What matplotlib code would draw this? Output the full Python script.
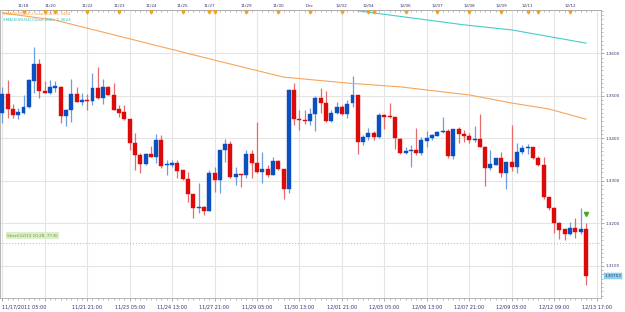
import numpy as np
import matplotlib
matplotlib.use('Agg')
import matplotlib.pyplot as plt
from matplotlib.ticker import MultipleLocator, FormatStrFormatter

# EUR/USD 4h candles, 11/17/2011 05:00 -> 12/13/2011
opens = [1.3459, 1.3504, 1.3468, 1.3455, 1.3460, 1.3473, 1.3536, 1.3576, 1.3511, 1.3507,
         1.3519, 1.3521, 1.3453, 1.3467, 1.3504, 1.3486, 1.3490, 1.3488, 1.3518, 1.3494,
         1.3520, 1.3502, 1.3468, 1.3461, 1.3445, 1.3388, 1.3361, 1.3339, 1.3363, 1.3356,
         1.3395, 1.3336, 1.3337, 1.3343, 1.3325, 1.3304, 1.3268, 1.3237, 1.3238, 1.3230,
         1.3318, 1.3302, 1.3372, 1.3387, 1.3310, 1.3316, 1.3314, 1.3363, 1.3343, 1.3321,
         1.3328, 1.3314, 1.3347, 1.3327, 1.3281, 1.3514, 1.3446, 1.3443, 1.3441, 1.3457,
         1.3494, 1.3482, 1.3441, 1.3459, 1.3474, 1.3456, 1.3482, 1.3502, 1.3392, 1.3404,
         1.3412, 1.3402, 1.3455, 1.3451, 1.3449, 1.3398, 1.3365, 1.3371, 1.3372, 1.3365,
         1.3394, 1.3400, 1.3406, 1.3414, 1.3416, 1.3358, 1.3422, 1.3410, 1.3405, 1.3396,
         1.3398, 1.3380, 1.3331, 1.3337, 1.3353, 1.3319, 1.3344, 1.3332, 1.3367, 1.3377,
         1.3379, 1.3354, 1.3337, 1.3261, 1.3237, 1.3201, 1.3186, 1.3175, 1.3188, 1.3179,
         1.3186]
highs = [1.3520, 1.3537, 1.3481, 1.3471, 1.3502, 1.3540, 1.3614, 1.3586, 1.3536, 1.3537,
         1.3536, 1.3523, 1.3468, 1.3540, 1.3520, 1.3507, 1.3504, 1.3553, 1.3567, 1.3539,
         1.3523, 1.3529, 1.3478, 1.3478, 1.3446, 1.3412, 1.3366, 1.3365, 1.3382, 1.3410,
         1.3408, 1.3349, 1.3350, 1.3349, 1.3326, 1.3321, 1.3269, 1.3294, 1.3240, 1.3325,
         1.3333, 1.3373, 1.3398, 1.3394, 1.3333, 1.3317, 1.3372, 1.3372, 1.3439, 1.3368,
         1.3337, 1.3355, 1.3349, 1.3328, 1.3515, 1.3531, 1.3467, 1.3467, 1.3471, 1.3500,
         1.3518, 1.3511, 1.3467, 1.3486, 1.3478, 1.3490, 1.3547, 1.3503, 1.3408, 1.3424,
         1.3416, 1.3459, 1.3456, 1.3484, 1.3450, 1.3400, 1.3379, 1.3384, 1.3425, 1.3404,
         1.3418, 1.3409, 1.3418, 1.3451, 1.3423, 1.3423, 1.3427, 1.3420, 1.3412, 1.3429,
         1.3457, 1.3381, 1.3372, 1.3354, 1.3368, 1.3345, 1.3431, 1.3388, 1.3384, 1.3386,
         1.3380, 1.3358, 1.3355, 1.3262, 1.3238, 1.3202, 1.3187, 1.3204, 1.3213, 1.3235,
         1.3200]
lows = [1.3437, 1.3447, 1.3447, 1.3445, 1.3458, 1.3471, 1.3507, 1.3494, 1.3506, 1.3504,
        1.3510, 1.3437, 1.3429, 1.3439, 1.3485, 1.3478, 1.3467, 1.3478, 1.3492, 1.3481,
        1.3501, 1.3466, 1.3451, 1.3443, 1.3372, 1.3325, 1.3318, 1.3337, 1.3355, 1.3342,
        1.3330, 1.3314, 1.3332, 1.3307, 1.3303, 1.3250, 1.3212, 1.3224, 1.3220, 1.3229,
        1.3274, 1.3272, 1.3345, 1.3306, 1.3290, 1.3285, 1.3306, 1.3306, 1.3318, 1.3294,
        1.3310, 1.3313, 1.3325, 1.3256, 1.3272, 1.3431, 1.3420, 1.3433, 1.3431, 1.3416,
        1.3460, 1.3439, 1.3439, 1.3457, 1.3455, 1.3447, 1.3473, 1.3362, 1.3384, 1.3396,
        1.3396, 1.3400, 1.3421, 1.3447, 1.3374, 1.3363, 1.3363, 1.3332, 1.3361, 1.3361,
        1.3380, 1.3396, 1.3405, 1.3413, 1.3353, 1.3351, 1.3388, 1.3392, 1.3390, 1.3392,
        1.3379, 1.3288, 1.3325, 1.3336, 1.3308, 1.3280, 1.3324, 1.3318, 1.3362, 1.3363,
        1.3351, 1.3335, 1.3256, 1.3231, 1.3178, 1.3162, 1.3161, 1.3172, 1.3165, 1.3175,
        1.3055]
closes = [1.3504, 1.3469, 1.3455, 1.3461, 1.3473, 1.3537, 1.3576, 1.3512, 1.3507, 1.3520,
          1.3522, 1.3453, 1.3467, 1.3504, 1.3486, 1.3490, 1.3488, 1.3518, 1.3494, 1.3520,
          1.3502, 1.3467, 1.3460, 1.3445, 1.3388, 1.3361, 1.3340, 1.3363, 1.3356, 1.3396,
          1.3335, 1.3338, 1.3343, 1.3324, 1.3304, 1.3268, 1.3236, 1.3239, 1.3230, 1.3318,
          1.3302, 1.3372, 1.3387, 1.3310, 1.3316, 1.3314, 1.3363, 1.3343, 1.3321, 1.3328,
          1.3314, 1.3347, 1.3327, 1.3281, 1.3514, 1.3445, 1.3443, 1.3441, 1.3457, 1.3494,
          1.3482, 1.3441, 1.3459, 1.3474, 1.3456, 1.3481, 1.3502, 1.3392, 1.3402, 1.3412,
          1.3402, 1.3455, 1.3449, 1.3449, 1.3400, 1.3365, 1.3371, 1.3372, 1.3365, 1.3396,
          1.3400, 1.3408, 1.3414, 1.3416, 1.3358, 1.3422, 1.3410, 1.3405, 1.3396, 1.3398,
          1.3380, 1.3331, 1.3339, 1.3353, 1.3319, 1.3344, 1.3332, 1.3367, 1.3378, 1.3379,
          1.3354, 1.3337, 1.3261, 1.3237, 1.3201, 1.3184, 1.3175, 1.3188, 1.3179, 1.3186,
          1.3075]

# moving averages (read at a few bars)
ema_bars = [0, 10, 40, 53, 65, 75, 88, 96, 103, 110]
ema_vals = [1.3695, 1.3678, 1.3584, 1.3544, 1.3530, 1.3521, 1.3502, 1.3483, 1.3469, 1.3445]
sma_bars = [67, 87, 96, 110]
sma_vals = [1.3700, 1.3667, 1.3655, 1.3624]

bottom_ticks = [0, 8, 16, 24, 32, 40, 48, 56, 64, 72, 80, 88, 96, 104, 112]
bottom_labels = ['11/17/2011 05:00', '', '11/21 21:00', '11/23 05:00', '11/24 13:00',
                 '11/27 21:00', '11/29 05:00', '11/30 13:00', '12/01 21:00', '12/05 05:00',
                 '12/06 13:00', '12/07 21:00', '12/09 05:00', '12/12 09:00', '12/13 17:00']
day_ticks = [4, 9, 16, 22, 28, 34, 39, 46, 52, 58, 64, 69, 76, 82, 88, 94, 99, 107]
day_labels = ['11/18', '11/20', '11/22', '11/23', '11/24', '11/25', '11/27', '11/29', '11/30',
              'Dec', '12/02', '12/04', '12/06', '12/07', '12/08', '12/09', '12/11', '12/12']
day_marks = [4, 8, 10, 16, 22, 28, 34, 39, 40, 46, 52, 58, 64, 69, 70, 76, 82, 88, 94, 99, 101, 107]

short_price = 1.3154
last_price = 1.30753

navy = '#33336e'
up_col, up_wick = '#0a50c0', '#6d9ee0'
dn_col, dn_wick = '#dd0a0a', '#e86a6a'

fig = plt.figure(figsize=(6.25, 3.12), dpi=100)
ax = fig.add_axes([0.0, 14 / 312, 601 / 625, 288 / 312])

x = np.arange(len(opens))
o = np.array(opens); h = np.array(highs); l = np.array(lows); c = np.array(closes)
up = c >= o

#wicks then bodies
ax.vlines(x[up], l[up], h[up], color=up_wick, lw=0.9, zorder=2)
ax.vlines(x[~up], l[~up], h[~up], color=dn_wick, lw=0.9, zorder=2)
body_lo = np.minimum(o, c)
body_h = np.maximum(np.abs(c - o), 0.00025)
ax.bar(x[up], body_h[up], bottom=body_lo[up], width=0.75, color=up_col, edgecolor=up_col, lw=0.3, zorder=3)
ax.bar(x[~up], body_h[~up], bottom=body_lo[~up], width=0.75, color=dn_col, edgecolor=dn_col, lw=0.3, zorder=3)

#moving averages
ax.plot(ema_bars, ema_vals, color='#f7a55a', lw=0.8, zorder=2)
ax.plot(sma_bars, sma_vals, color='#45cccc', lw=0.8, zorder=2)

#short order line
ax.axhline(short_price, color='#a8d888', ls=':', lw=0.8, zorder=1)
ax.text(0.9, 1.3171, 'Short(12/13 10:28, 77.8)', fontsize=3, color='#6f8f55', va='center',
        bbox=dict(facecolor='#dcefc8', edgecolor='none', pad=0.8))
ax.plot([110], [1.3222], marker='v', color='#44aa22', ms=3, zorder=4)

ax.text(0.005, 0.986, 'EMA(EURUSD,Close,100): 1.3444', transform=ax.transAxes,
        fontsize=3, color='#f59a40', va='center')
ax.text(0.005, 0.966, 'SMA(EURUSD,Close,200): 1.3624', transform=ax.transAxes,
        fontsize=3, color='#30bcbc', va='center')

ax.set_xlim(-0.43, 112.83)
ax.set_ylim(1.30242, 1.37019)

#grid
ax.set_xticks(bottom_ticks)
ax.set_xticklabels(bottom_labels)
ax.get_xticklabels()[0].set_ha('left')
ax.xaxis.set_minor_locator(MultipleLocator(1))
ax.set_yticks(np.arange(1.31, 1.361, 0.01))
ax.yaxis.set_major_formatter(FormatStrFormatter('%.4f'))
ax.yaxis.set_minor_locator(MultipleLocator(0.001))
ax.yaxis.tick_right()
ax.grid(True, which='major', color='#e4e4e4', lw=0.8, zorder=0)
ax.set_axisbelow(True)

ax.tick_params(axis='x', which='major', labelsize=3.6, colors='#888888', labelcolor=navy,
               length=2.5, width=0.5, pad=2)
ax.tick_params(axis='x', which='minor', length=1.2, width=0.4, colors='#888888')
ax.tick_params(axis='y', which='major', labelsize=3, colors='#888888', labelcolor=navy,
               length=2.5, width=0.5, pad=1)
ax.tick_params(axis='y', which='minor', length=1.2, width=0.4, colors='#888888')
for s in ax.spines.values():
    s.set_color('#aaaaaa')
    s.set_linewidth(0.6)

#top axis with day labels
top = ax.secondary_xaxis('top')
top.set_xticks(day_ticks)
top.set_xticklabels(day_labels)
top.xaxis.set_minor_locator(MultipleLocator(1))
top.tick_params(which='major', direction='in', length=2, width=0.5, colors='#888888',
                labelcolor=navy, labelsize=3, pad=1.5)
top.tick_params(which='minor', direction='in', length=1.2, width=0.4, colors='#888888')
top.spines['top'].set_color('#aaaaaa')
top.spines['top'].set_linewidth(0.6)
ax.plot(day_marks, [1.3698] * len(day_marks), ls='none', marker='v', ms=2.2,
        color='#f5a020', clip_on=False, zorder=5)

#last price box
ax.annotate('1.30753', xy=(1.006, last_price), xycoords=('axes fraction', 'data'),
            fontsize=3, color='#16356a', va='center', ha='left', annotation_clip=False,
            bbox=dict(facecolor='#8fd3ef', edgecolor='#6cbde0', lw=0.3, pad=0.6))

plt.savefig('out.png', dpi=100)
